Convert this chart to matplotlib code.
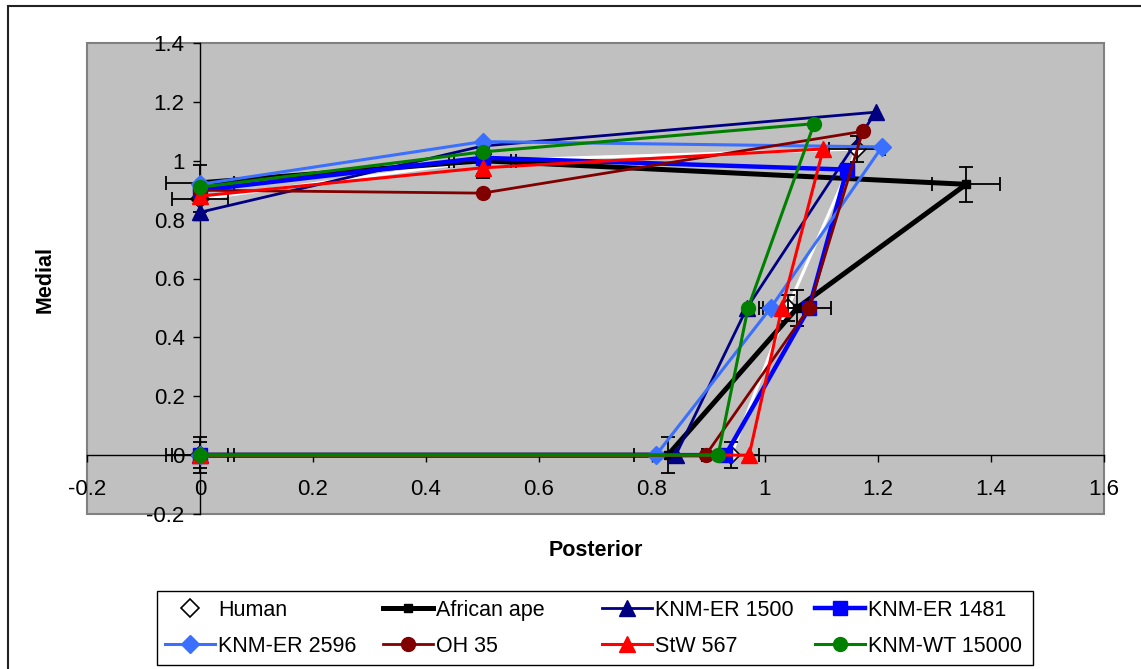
import matplotlib
matplotlib.use("Agg")
import matplotlib.pyplot as plt
from matplotlib.patches import Rectangle
from matplotlib.ticker import FuncFormatter, MultipleLocator

plt.rcParams['font.family'] = ['Liberation Sans', 'DejaVu Sans']

# ---- data ----
names = ["Human", "African ape", "KNM-ER 1500", "KNM-ER 1481",
         "KNM-ER 2596", "OH 35", "StW 567", "KNM-WT 15000"]
# each series: origin -> bottom -> mid -> top -> half -> start
x_bottom = [0.94, 0.828, 0.842, 0.93, 0.807, 0.895, 0.972, 0.917]
x_mid    = [1.04, 1.057, 0.968, 1.078, 1.01, 1.078, 1.03, 0.97]
x_top    = [1.163, 1.356, 1.196, 1.145, 1.207, 1.173, 1.103, 1.087]
y_top    = [1.04, 0.92, 1.165, 0.97, 1.047, 1.10, 1.04, 1.126]
y_half   = [1.0, 1.0, 1.05, 1.01, 1.065, 0.89, 0.976, 1.03]
y_start  = [0.87, 0.925, 0.825, 0.90, 0.92, 0.90, 0.88, 0.91]
x_half = 0.5
y_mid = 0.5
# error bars (Human, African ape)
xerr_vals = {"Human": 0.05, "African ape": 0.06}
yerr_vals = {"Human": 0.045, "African ape": 0.06}

colors = ["white", "black", "#000080", "#0000FF", "#3A6FFF", "#800000", "#FF0000", "#008000"]
markers = ["D", "s", "^", "s", "D", "o", "^", "o"]
msizes = [9, 6, 11, 10, 9, 10, 11, 10]
lwidths = [2.2, 3.6, 2.0, 3.2, 2.2, 2.0, 2.2, 2.2]

fig = plt.figure(figsize=(11.41, 6.69), dpi=100)
ax = fig.add_axes([87/1141, 1-514/669, (1104-87)/1141, (514-43)/669])
ax.set_facecolor('#C0C0C0')

handles = {}
for i, n in enumerate(names):
    xs = [0, x_bottom[i], x_mid[i], x_top[i], x_half, 0]
    ys = [0, 0, y_mid, y_top[i], y_half[i], y_start[i]]
    mec = 'black' if n == "Human" else colors[i]
    h, = ax.plot(xs, ys, color=colors[i], lw=lwidths[i], marker=markers[i],
                 ms=msizes[i], mfc=colors[i], mec=mec, mew=1.2 if n == "Human" else 1,
                 label=n, zorder=3 + i * 0.1)
    handles[n] = h
    if n in xerr_vals:
        ax.errorbar(xs, ys, xerr=xerr_vals[n], yerr=yerr_vals[n], fmt='none',
                    ecolor='black', elinewidth=1.3, capsize=5, capthick=1.3,
                    zorder=3 + i * 0.1 + 0.05)

ax.set_xlim(-0.2, 1.6)
ax.set_ylim(-0.2, 1.4)
ax.xaxis.set_major_locator(MultipleLocator(0.2))
ax.yaxis.set_major_locator(MultipleLocator(0.2))
fmt = FuncFormatter(lambda v, p: ('%g' % round(v, 2)))
ax.xaxis.set_major_formatter(fmt)
ax.yaxis.set_major_formatter(fmt)

ax.spines['left'].set_position(('data', 0))
ax.spines['bottom'].set_position(('data', 0))
ax.spines['top'].set_visible(False)
ax.spines['right'].set_visible(False)
for s in ('left', 'bottom'):
    ax.spines[s].set_color('black')
    ax.spines[s].set_linewidth(1.0)
    ax.spines[s].set_zorder(2)
ax.tick_params(axis='both', direction='out', length=5, width=1, labelsize=16,
               colors='black')
ax.tick_params(axis='x', pad=12)
ax.tick_params(axis='y', pad=6)

# plot-area border (Excel style)
ax.add_patch(Rectangle((0, 0), 1, 1, transform=ax.transAxes, fill=False,
                       edgecolor='#808080', lw=1.5, clip_on=False, zorder=1))

fig.text(596/1141, 1-551/669, "Posterior", ha='center', va='center',
         fontsize=15.5, fontweight='bold')
fig.text(45/1141, 1-280/669, "Medial", ha='center', va='center',
         fontsize=15.5, fontweight='bold', rotation=90)

# legend: 4 fixed-width columns, 2 rows (Excel layout)
columns = [["Human", "KNM-ER 2596"], ["African ape", "OH 35"],
           ["KNM-ER 1500", "StW 567"], ["KNM-ER 1481", "KNM-WT 15000"]]
col_x = [165, 383, 602, 815]
for cx, col in zip(col_x, columns):
    lg = fig.legend([handles[n] for n in col], col, loc='upper left',
                    bbox_to_anchor=(cx/1141, 1-600/669), fontsize=15.5,
                    frameon=False, handlelength=2.33, handletextpad=0.15,
                    borderpad=0, borderaxespad=0, labelspacing=0.68)
fig.patches.append(Rectangle((157/1141, 1-665/669), (1033-157)/1141, (665-591)/669,
                             transform=fig.transFigure, fill=False,
                             edgecolor='black', lw=1.0))

# outer chart frame (extends beyond the image on right and bottom)
fig.patches.append(Rectangle((8/1141, -0.05), 1.2, 1-6/669 + 0.05,
                             transform=fig.transFigure, fill=False,
                             edgecolor='#222222', lw=1.5))

fig.savefig("out.png", dpi=100)
